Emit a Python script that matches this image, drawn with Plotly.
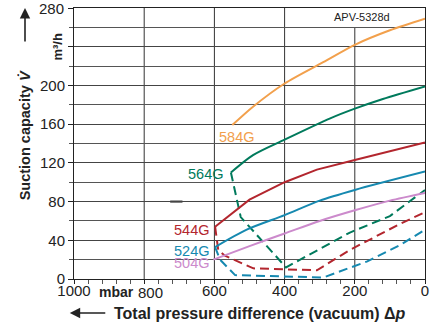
import plotly.graph_objects as go

# ---- data ----
p584 = [549, 490, 400, 290, 200, 100, 0]
v584 = [159, 178, 202, 224, 242, 257, 269]

p564 = [553, 490, 400, 270, 200, 120, 0]
v564 = [110, 128, 144, 166, 176, 186, 199]
p564d = [553, 525, 396, 214, 100, 0]
v564d = [110, 64, 12, 48, 65, 92]

p544 = [598, 500, 400, 308, 200, 120, 0]
v544 = [54, 82, 100, 113, 123, 130, 141]
p544d = [598, 589, 570, 489, 308, 214, 71, 0]
v544d = [54, 30, 24, 11, 9, 30, 57, 69]

p524 = [598, 508, 400, 300, 200, 0]
v524 = [33, 51, 66, 81, 92, 111]
p524d = [598, 584, 541, 290, 166, 71, 0]
v524d = [33, 20, 4, 1.5, 18, 35, 51]

p504 = [603, 500, 400, 300, 200, 100, 0]
v504 = [20, 34, 47, 60, 71, 81, 89]

x_ticks = [1000, 800, 600, 400, 200, 0]
x_ticktext = ["1000", "", "600", "400", "200", "0"]
y_ticks = [0, 40, 80, 120, 160, 200, 240, 280]
y_ticktext = ["0", "40", "80", "120", "160", "200", "", ""]

labels = ["584G", "564G", "544G", "524G", "504G"]
label_pos = [(538, 147), (625, 108), (665, 50.5), (665, 29), (665, 17)]

C584 = "#F2A04C"
C564 = "#007A5C"
C544 = "#B3262E"
C524 = "#1689B0"
C504 = "#CC8ACC"

FONT = "Arial, Liberation Sans, sans-serif"
DASH = "9px,5px"
TXT = "#222222"

fig = go.Figure()

def add(px, py, color, dash=None, shape="linear"):
    fig.add_trace(go.Scatter(
        x=px, y=py, mode="lines",
        line=dict(color=color, width=2, dash=dash or "solid", shape=shape,
                  smoothing=0.8),
        hoverinfo="skip", showlegend=False))

add(p584, v584, C584, shape="spline")
add(p564, v564, C564, shape="spline")
add(p564d, v564d, C564, dash=DASH)
add(p544, v544, C544)
add(p544d, v544d, C544, dash=DASH)
add(p524, v524, C524, shape="spline")
add(p524d, v524d, C524, dash=DASH)
add(p504, v504, C504, shape="spline")

colors = [C584, C564, C544, C524, C504]
for lab, (lx, ly), c in zip(labels, label_pos, colors):
    fig.add_annotation(x=lx, y=ly, xref="x", yref="y", text=lab, showarrow=False,
                       xanchor="center", yanchor="middle",
                       font=dict(family=FONT, size=14.5, color=c))

# vertical grid lines (the 200 mbar line stops below the label area)
for xv, ytop in [(800, 280), (600, 280), (400, 280), (200, 260)]:
    fig.add_shape(type="line", x0=xv, x1=xv, y0=0, y1=ytop, xref="x", yref="y",
                  line=dict(color="#333333", width=1), layer="below")
# small black dash on the 80 line
fig.add_shape(type="line", x0=726, x1=691, y0=80, y1=80, xref="x", yref="y",
              line=dict(color="#222222", width=2), layer="below")

# extra tick texts
fig.add_annotation(x=781, y=0, xref="x", yref="y", yshift=-13, text="800",
                   showarrow=False, xanchor="center", yanchor="middle",
                   font=dict(family=FONT, size=15, color=TXT))
fig.add_annotation(x=880, y=0, xref="x", yref="y", yshift=-13, text="<b>mbar</b>",
                   showarrow=False, xanchor="center", yanchor="middle",
                   font=dict(family=FONT, size=14, color=TXT))
fig.add_annotation(x=-0.022, y=280, xref="paper", yref="y", text="280",
                   showarrow=False, xanchor="right", yanchor="middle",
                   font=dict(family=FONT, size=15, color=TXT))

fig.add_annotation(x=0.8205, y=0.967, xref="paper", yref="paper", text="APV-5328d",
                   showarrow=False, xanchor="center", yanchor="middle",
                   font=dict(family=FONT, size=11, color=TXT))

fig.add_annotation(x=-0.047, y=0.856, xref="paper", yref="paper", text="<b>m³/h</b>",
                   textangle=-90, showarrow=False, xanchor="center", yanchor="middle",
                   font=dict(family=FONT, size=13, color=TXT))

# axis titles
fig.add_annotation(x=-0.1396, y=0.53, xref="paper", yref="paper",
                   text="<b>Suction capacity <i>V̇</i></b>", textangle=-90,
                   showarrow=False, xanchor="center", yanchor="middle",
                   font=dict(family=FONT, size=14.5, color=TXT))
fig.add_annotation(x=-0.1396, y=1.0, xref="paper", yref="paper", text="",
                   showarrow=True, ax=0, ay=35, arrowhead=2, arrowsize=1.3,
                   arrowwidth=1.6, arrowcolor=TXT)
fig.add_annotation(x=0.951, y=-0.1255, xref="paper", yref="paper",
                   text="<b>Total pressure difference (vacuum) Δ<i>p</i></b>",
                   showarrow=False, xanchor="right", yanchor="middle",
                   font=dict(family=FONT, size=16, color=TXT))
fig.add_annotation(x=-0.012, y=-0.1255, xref="paper", yref="paper", text="",
                   showarrow=True, ax=37, ay=0, arrowhead=2, arrowsize=1.3,
                   arrowwidth=1.6, arrowcolor=TXT)

fig.update_layout(
    width=437, height=325,
    margin=dict(l=74, r=12, t=8, b=46),
    paper_bgcolor="white", plot_bgcolor="white",
    font=dict(family=FONT, size=15, color=TXT),
    xaxis=dict(range=[1000, 0], tickvals=x_ticks, ticktext=x_ticktext,
               showgrid=False, zeroline=False, showline=True, mirror=True,
               linecolor=TXT, linewidth=1, ticks="outside", ticklen=4,
               tickcolor=TXT, automargin=False, ticklabelstandoff=-6,
               minor=dict(dtick=40, tick0=0, ticks="outside", ticklen=4,
                          tickcolor="#555", showgrid=False)),
    yaxis=dict(range=[0, 280], tickvals=y_ticks, ticktext=y_ticktext,
               showgrid=True, gridcolor="#444", gridwidth=1, zeroline=False,
               showline=True, mirror=True, linecolor=TXT, linewidth=1,
               ticks="outside", ticklen=5, tickcolor=TXT, automargin=False,
               minor=dict(dtick=20, tick0=0, ticks="outside", ticklen=4,
                          tickcolor="#555", showgrid=True, gridcolor="#555",
                          gridwidth=1)),
)

fig.write_html("out.html", config={"displayModeBar": False},
               post_script="document.body.style.margin='0';document.body.style.overflow='hidden';")
